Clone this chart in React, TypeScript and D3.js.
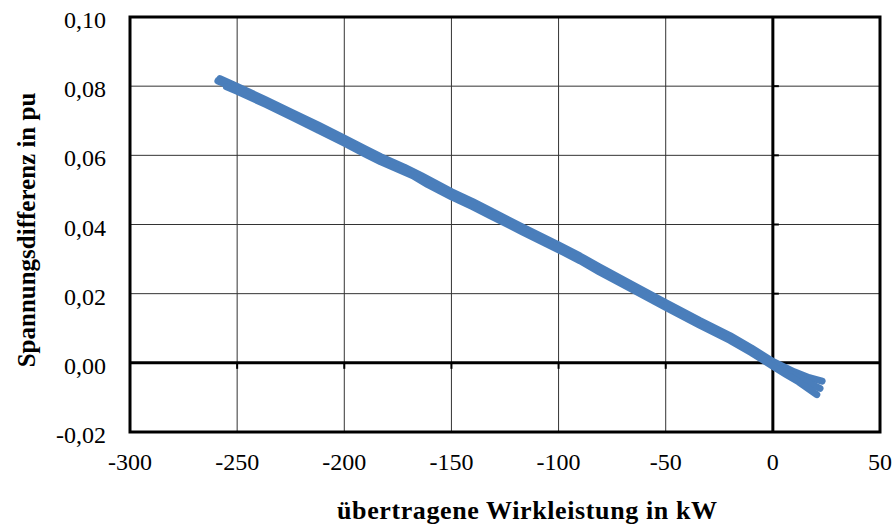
import React from "react";
import * as d3 from "d3";

// Measured traces: transmitted active power (kW) vs. voltage difference (pu)
const traceUpper: [number, number][] = [
  [-258, 0.0822], [-250, 0.0799], [-237, 0.0762], [-224, 0.0723], [-212, 0.0687],
  [-200, 0.0650], [-190, 0.0618], [-183, 0.0596], [-172, 0.0566], [-164, 0.0541],
  [-150, 0.0495], [-140, 0.0466], [-132, 0.0441], [-117, 0.0393], [-100, 0.0341],
  [-90, 0.0309], [-81, 0.0278], [-65, 0.0224], [-50, 0.0174], [-34, 0.0122],
  [-20, 0.0079], [-10, 0.0043], [0, 0.0004], [10, -0.0026], [17, -0.0043], [23, -0.0053],
];
const traceMiddle: [number, number][] = [
  [-259, 0.0815], [-250, 0.0792], [-237, 0.0755], [-224, 0.0716], [-212, 0.0679],
  [-200, 0.0642], [-190, 0.0610], [-183, 0.0588], [-175, 0.0568], [-168, 0.0549],
  [-161, 0.0522], [-150, 0.0487], [-140, 0.0458], [-132, 0.0433], [-117, 0.0386],
  [-100, 0.0334], [-90, 0.0302], [-81, 0.0270], [-65, 0.0217], [-50, 0.0167],
  [-34, 0.0115], [-20, 0.0072], [-10, 0.0036], [0, -0.0003], [8, -0.0030],
  [14, -0.0050], [22, -0.0074],
];
const traceLower: [number, number][] = [
  [-255, 0.0798], [-250, 0.0785], [-237, 0.0748], [-224, 0.0709], [-212, 0.0672],
  [-200, 0.0635], [-190, 0.0603], [-183, 0.0581], [-168, 0.0541], [-161, 0.0515],
  [-150, 0.0480], [-140, 0.0451], [-132, 0.0426], [-117, 0.0379], [-100, 0.0327],
  [-90, 0.0295], [-81, 0.0263], [-65, 0.0210], [-50, 0.0160], [-34, 0.0108],
  [-20, 0.0065], [-10, 0.0029], [0, -0.0010], [6, -0.0033], [12, -0.0055],
  [20.5, -0.0092],
];
const traces = [traceUpper, traceMiddle, traceLower];

const xTicks = [-300, -250, -200, -150, -100, -50, 0, 50];
const yTicks = [-0.02, 0, 0.02, 0.04, 0.06, 0.08, 0.1];
const xTitle = "übertragene Wirkleistung in kW";
const yTitle = "Spannungsdifferenz in pu";

const W = 895;
const H = 526;
const left = 130;
const right = 880;
const top = 17;
const bottom = 432;

const locale = d3.formatLocale({
  decimal: ",",
  thousands: ".",
  grouping: [3],
  currency: ["", " €"],
  minus: "-",
});
const fmtY = locale.format(".2f");
const fmtX = locale.format("d");

export default function App() {
  const x = d3.scaleLinear().domain([-300, 50]).range([left, right]);
  const y = d3.scaleLinear().domain([-0.02, 0.1]).range([bottom, top]);
  const line = d3
    .line<[number, number]>()
    .x((d) => x(d[0]))
    .y((d) => y(d[1]));

  const font = "'Liberation Serif', 'Times New Roman', serif";
  const x0 = x(0);
  const y0 = y(0);

  return (
    <svg
      width={W}
      height={H}
      style={{ position: "absolute", left: 0, top: 0, background: "#fff" }}
      fontFamily={font}
    >
      <rect x={0} y={0} width={W} height={H} fill="#fff" />
      {/* grid */}
      {xTicks
        .filter((t) => t !== 0 && t !== -300 && t !== 50)
        .map((t) => (
          <line key={"gx" + t} x1={x(t)} x2={x(t)} y1={top} y2={bottom} stroke="#333" strokeWidth={1} />
        ))}
      {yTicks
        .filter((t) => t !== 0 && t !== -0.02 && t !== 0.1)
        .map((t) => (
          <line key={"gy" + t} x1={left} x2={right} y1={y(t)} y2={y(t)} stroke="#333" strokeWidth={1} />
        ))}
      {/* axes crossing at zero */}
      <line x1={x0} x2={x0} y1={top} y2={bottom} stroke="#000" strokeWidth={3} />
      <line x1={left} x2={right} y1={y0} y2={y0} stroke="#000" strokeWidth={3} />
      {xTicks
        .filter((t) => t !== 0)
        .map((t) => (
          <line key={"tx" + t} x1={x(t)} x2={x(t)} y1={y0} y2={y0 + 6} stroke="#000" strokeWidth={2} />
        ))}
      {yTicks
        .filter((t) => t !== 0)
        .map((t) => (
          <line key={"ty" + t} x1={x0} x2={x0 + 6} y1={y(t)} y2={y(t)} stroke="#000" strokeWidth={2} />
        ))}
      {/* data */}
      {traces.map((tr, i) => (
        <path
          key={"tr" + i}
          d={line(tr) || ""}
          fill="none"
          stroke="#4A7EBB"
          strokeWidth={7}
          strokeLinecap="round"
          strokeLinejoin="round"
        />
      ))}
      {/* frame */}
      <rect x={left} y={top} width={right - left} height={bottom - top} fill="none" stroke="#000" strokeWidth={3} />
      {/* tick labels */}
      {yTicks.map((t) => (
        <text key={"ly" + t} x={106} y={y(t) + 11} textAnchor="end" fontSize={24} fill="#000">
          {fmtY(t)}
        </text>
      ))}
      {xTicks.map((t) => (
        <text key={"lx" + t} x={x(t)} y={470} textAnchor="middle" fontSize={24} fill="#000">
          {fmtX(t)}
        </text>
      ))}
      {/* titles */}
      <text
        x={337}
        y={519}
        fontSize={26}
        fontWeight="bold"
        fill="#000"
        textLength={380}
        lengthAdjust="spacing"
      >
        {xTitle}
      </text>
      <text
        transform={`translate(35,230) rotate(-90)`}
        textAnchor="middle"
        fontSize={25}
        fontWeight="bold"
        fill="#000"
      >
        {yTitle}
      </text>
    </svg>
  );
}
